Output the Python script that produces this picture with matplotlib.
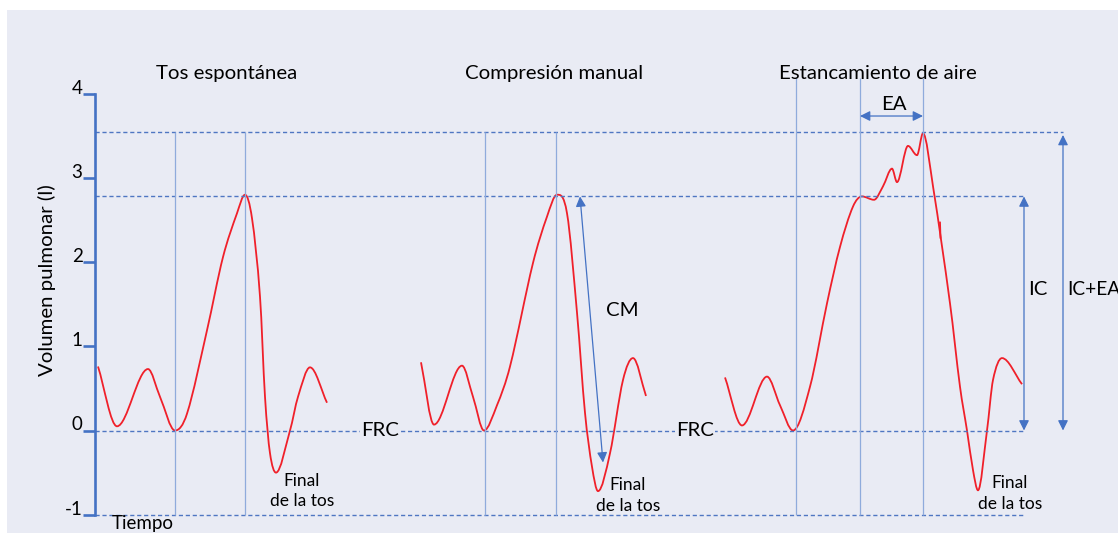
import numpy as np
import matplotlib
matplotlib.use('Agg')
import matplotlib.pyplot as plt
from matplotlib.path import Path
from matplotlib.patches import PathPatch

# time axis is arbitrary (schematic), volume in litres
plt.rcParams['font.family'] = ['Lato', 'DejaVu Sans']
plt.rcParams['lines.scale_dashes'] = False

BG = '#E9EBF4'
AXIS_BLUE = '#4472C4'
DASH_BLUE = '#4F76C2'
VLINE_BLUE = '#8FABDC'
RED = '#F0202A'

# --- curves (extremes + a few points on the flanks) ---
t_tos = [98, 117, 148, 160, 175, 187, 207, 223, 237, 245,
         252, 260, 265, 270, 276, 290, 298, 310, 327]
v_tos = [0.76, 0.05, 0.73, 0.40, 0.0, 0.20, 1.19, 2.06, 2.58, 2.80,
         2.52, 1.59, 0.40, -0.27, -0.50, 0.0, 0.40, 0.75, 0.33]

t_cm = [421, 434, 462, 473, 484, 497, 510, 533, 547, 557,
        567, 577, 585, 592, 598, 610, 623, 633, 646]
v_cm = [0.81, 0.07, 0.77, 0.40, 0.0, 0.30, 0.76, 1.99, 2.54, 2.80,
        2.58, 1.40, 0.21, -0.43, -0.72, -0.27, 0.60, 0.86, 0.41]

t_ea = [725, 742, 767, 780, 793, 810, 827, 840, 853, 862, 874, 883,
        892, 897, 908, 917, 923, 933, 950, 960, 967, 973, 978, 987, 993, 1002, 1022]
v_ea = [0.63, 0.06, 0.64, 0.30, 0.0, 0.52, 1.51, 2.18, 2.66, 2.78, 2.74, 2.90,
        3.11, 2.95, 3.38, 3.27, 3.53, 2.90, 1.51, 0.52, 0.0, -0.47, -0.71, 0.0, 0.60, 0.86, 0.55]

# small stray stroke on the third curve
t_glitch = [940, 940.5]
v_glitch = [2.47, 2.29]

# --- reference levels and markers ---
frc = 0.0
ic_level = 2.78
ea_level = 3.545
bottom_level = -1.0
vlines_short = [175, 245, 485, 556]
vlines_tall = [796, 860, 923]
vtop_tall = 4.19

yticks = [-1, 0, 1, 2, 3, 4]
titles = ['Tos espontánea', 'Compresión manual', 'Estancamiento de aire']
title_x = [227, 554, 878]


def slopes(x, y):
    # central differences, flat at local extremes
    d = np.diff(y) / np.diff(x)
    m = np.zeros_like(y)
    for k in range(1, len(x) - 1):
        if d[k - 1] * d[k] > 0:
            m[k] = (y[k + 1] - y[k - 1]) / (x[k + 1] - x[k - 1])
    m[0] = d[0]
    m[-1] = d[-1]
    return m


def smooth_path(xs, ys):
    x = np.asarray(xs, float)
    y = np.asarray(ys, float)
    m = slopes(x, y)
    verts = [(x[0], y[0])]
    codes = [Path.MOVETO]
    for k in range(len(x) - 1):
        h = x[k + 1] - x[k]
        verts += [(x[k] + h / 3, y[k] + m[k] * h / 3),
                  (x[k + 1] - h / 3, y[k + 1] - m[k + 1] * h / 3),
                  (x[k + 1], y[k + 1])]
        codes += [Path.CURVE4] * 3
    return Path(verts, codes)


fig = plt.figure(figsize=(11.18, 5.33), dpi=100)
fig.patch.set_facecolor('white')
ax = fig.add_axes([7 / 1118, 0, 1111 / 1118, 523 / 533])
ax.set_facecolor(BG)
ax.set_xlim(7, 1118)
ax.set_ylim((430.5 - 533) / 84.2, (430.5 - 10) / 84.2)

# y axis
for s in ['top', 'right', 'bottom']:
    ax.spines[s].set_visible(False)
ax.spines['left'].set_position(('data', 95))
ax.spines['left'].set_bounds(-1, 4)
ax.spines['left'].set_color(AXIS_BLUE)
ax.spines['left'].set_linewidth(1.9)
ax.set_xticks([])
ax.set_yticks(yticks)
ax.set_yticklabels([str(v) for v in yticks])
ax.tick_params(axis='y', direction='out', length=8.5, width=1.9, color=AXIS_BLUE,
               pad=0.5, labelsize=13.5)
for lab in ax.get_yticklabels():
    lab.set_va('baseline')

# guide lines
ax.hlines(ea_level, 95, 1063, colors=DASH_BLUE, linestyles=(0, (3, 2)), lw=1.0)
ax.hlines([ic_level, frc, bottom_level], 95, 1025, colors=DASH_BLUE,
          linestyles=(0, (3, 2)), lw=1.0)
ax.vlines(vlines_short, bottom_level, ea_level, colors=VLINE_BLUE, lw=0.9)
ax.vlines(vlines_tall, bottom_level, vtop_tall, colors=VLINE_BLUE, lw=0.9)

# curves
for tx, vy in [(t_tos, v_tos), (t_cm, v_cm), (t_ea, v_ea)]:
    ax.add_patch(PathPatch(smooth_path(tx, vy), fc='none', ec=RED, lw=1.3))
ax.plot(t_glitch, v_glitch, color=RED, lw=1.3)

# arrows
arr = dict(arrowstyle='<|-|>,head_length=0.5,head_width=0.25', color=AXIS_BLUE,
           lw=0.9, shrinkA=0, shrinkB=0, mutation_scale=12)
ax.annotate('', xy=(923, 3.735), xytext=(860, 3.735), arrowprops=arr)
ax.annotate('', xy=(1024, ic_level), xytext=(1024, frc), arrowprops=arr)
ax.annotate('', xy=(1063, 3.51), xytext=(1063, frc), arrowprops=arr)
ax.annotate('', xy=(580, ic_level), xytext=(603, -0.38), arrowprops=arr)

# text
for x, s in zip(title_x, titles):
    ax.text(x, 4.18, s, ha='center', va='baseline', fontsize=14.7)
ax.text(894, 3.81, 'EA', ha='center', va='baseline', fontsize=14.7)
ax.text(1038, 1.67, 'IC', ha='center', va='center', fontsize=14.7)
ax.text(1067, 1.67, 'IC+EA', ha='left', va='center', fontsize=13.8)
ax.text(622, 1.42, 'CM', ha='center', va='center', fontsize=14.7)
for x in [380, 695]:
    ax.text(x, frc, 'FRC', ha='center', va='center', fontsize=14.7,
            bbox=dict(fc=BG, ec='none', pad=0.5))
for x, y in [(302, -0.72), (628, -0.77), (1010, -0.75)]:
    ax.text(x, y, 'Final\nde la tos', ha='center', va='center', multialignment='center',
            fontsize=12.5, linespacing=1.35)
ax.text(143, -1.205, 'Tiempo', ha='center', va='bottom', fontsize=13.5)
ax.text(47, 1.78, 'Volumen pulmonar (l)', rotation=90, ha='center', va='center',
        fontsize=14.7)

fig.savefig('out.png', dpi=100, facecolor=fig.get_facecolor())
